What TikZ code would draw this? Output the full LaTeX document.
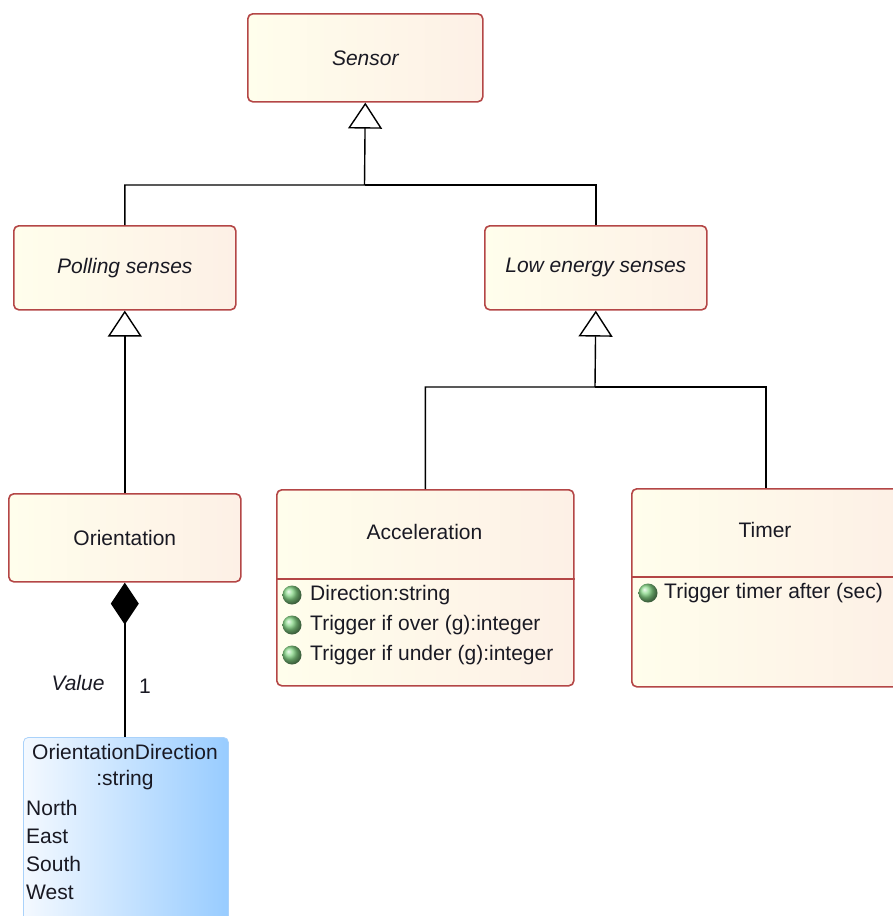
\documentclass[tikz,border=0pt]{standalone}
\usepackage{fontspec}
\setmainfont{Liberation Sans}
\usetikzlibrary{arrows.meta,shadings}
\definecolor{bord}{RGB}{180,70,70}
\definecolor{fillL}{RGB}{255,254,236}
\definecolor{fillR}{RGB}{253,240,230}
\definecolor{odL}{RGB}{244,249,255}
\definecolor{odR}{RGB}{152,204,255}
\definecolor{odB}{RGB}{170,210,250}
\definecolor{txt}{RGB}{25,25,35}
\definecolor{ballg}{RGB}{135,215,135}
\tikzset{
 cls/.style={draw=bord, line width=1.6pt, rounded corners=5pt, left color=fillL, right color=fillR, inner sep=0pt, anchor=north west, font=\fontsize{21}{25}\selectfont, text=txt},
 ttl/.style={font=\fontsize{21}{25}\selectfont, text=txt, inner sep=0pt},
 att/.style={font=\fontsize{21}{25}\selectfont, text=txt, anchor=west, inner sep=0pt},
 sep/.style={draw=bord, line width=1.3pt},
 conn/.style={line width=1.4pt, draw=black},
 gen/.style={conn, -{Triangle[open, length=26pt, width=34pt, fill=white, line width=1.4pt]}},
 comp/.style={conn, {Diamond[length=42pt, width=28pt, fill=black]}-},
 bulletball/.style={ball color=ballg},
}
\begin{document}
\begin{tikzpicture}[x=1pt,y=-1pt]
\useasboundingbox (0,0) rectangle (893,916);
\clip (0,0) rectangle (893,916);
% classes
\node[cls, minimum width=235pt, minimum height=88pt] (sensor) at (247,13) {\itshape Sensor};
\node[cls, minimum width=222pt, minimum height=84pt] (poll) at (13,225) {\itshape Polling senses};
\node[cls, minimum width=222pt, minimum height=84pt] (low) at (484,225) {\itshape Low energy senses};
\node[cls, minimum width=232pt, minimum height=88pt] (orient) at (8,493) {Orientation};
\node[cls, minimum width=297pt, minimum height=196pt] (acc) at (276,489) {};
\node[cls, minimum width=268pt, minimum height=198pt] (timer) at (631,488) {};
% Acceleration content
\node[ttl] (acctitle) at (424.5,532) {Acceleration};
\draw[sep] (acc.west |- 0,579) -- (acc.east |- 0,579);
\shade[bulletball] (292,595) circle (9.5pt);
\shade[bulletball] (292,625) circle (9.5pt);
\shade[bulletball] (292,655) circle (9.5pt);
\node[att] (acca1) at (310,595) {Direction:string};
\node[att] (acca2) at (310,625) {Trigger if over (g):integer};
\node[att] (acca3) at (310,655) {Trigger if under (g):integer};
% Timer content
\node[ttl] (timertitle) at (765,530) {Timer};
\draw[sep] (timer.west |- 0,577) -- (timer.east |- 0,577);
\shade[bulletball] (648,593) circle (9.5pt);
\node[att] (timera1) at (664,593) {Trigger timer after (sec)};
% Enumeration
\node[anchor=north west, minimum width=205pt, minimum height=195pt, rounded corners=5pt, left color=odL, right color=odR, draw=odB, line width=0.8pt] (od) at (23,737) {};
\node[ttl] (odt1) at (125,752) {OrientationDirection};
\node[ttl] (odt2) at (125,780) {:string};
\node[att] (odn) at (26,808) {North};
\node[att] (ode) at (26,836) {East};
\node[att] (ods) at (26,864) {South};
\node[att] (odw) at (26,892) {West};
% connectors
\coordinate (j1) at (364.5,185);
\draw[gen] (poll.north) |- (j1) -- (sensor.south);
\draw[conn] (low.north) |- (j1);
\draw[gen] (orient.north) -- (poll.south);
\coordinate (j2) at (595,387);
\draw[gen] (acc.north) |- (j2) -- (low.south);
\draw[conn] (timer.north) |- (j2);
\draw[comp] (orient.south) -- (orient.south |- od.north);
\node[ttl, font=\fontsize{21}{25}\selectfont\itshape] (vlabel) at (78,683) {Value};
\node[ttl] (mult) at (145,686) {1};
\end{tikzpicture}
\end{document}
